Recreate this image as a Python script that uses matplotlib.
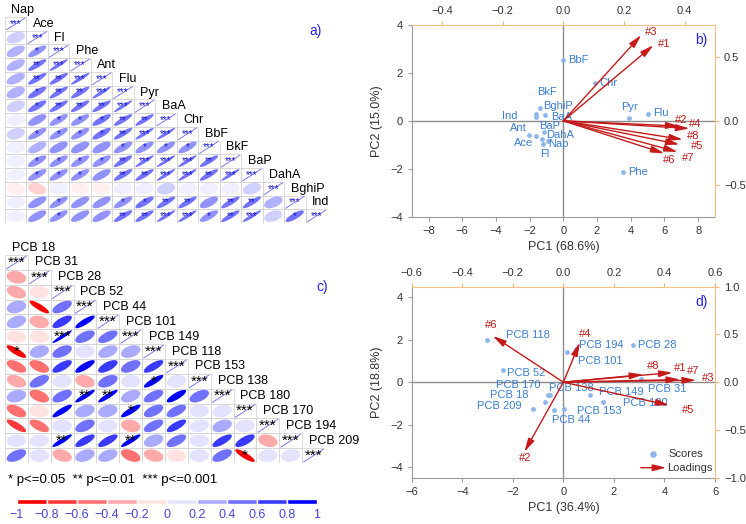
import matplotlib.pyplot as plt
import numpy as np
from matplotlib.colors import ListedColormap, BoundaryNorm
from matplotlib.patches import Polygon, Rectangle

plt.rcParams['font.family'] = ['Liberation Sans', 'DejaVu Sans']

# ---------------- correlation data (lower triangles, row k holds r with vars 0..k-1)
PAH_NAMES = ["Nap", "Ace", "Fl", "Phe", "Ant", "Flu", "Pyr", "BaA", "Chr", "BbF",
             "BkF", "BaP", "DahA", "BghiP", "Ind"]
PAH_R = [
    [0.35],
    [0.55, 0.78],
    [0.55, 0.86, 0.94],
    [0.55, 0.86, 0.88, 0.94],
    [0.45, 0.80, 0.88, 0.87, 0.94],
    [0.35, 0.80, 0.87, 0.87, 0.88, 0.95],
    [0.12, 0.65, 0.78, 0.78, 0.80, 0.88, 0.90],
    [0.25, 0.78, 0.78, 0.77, 0.80, 0.88, 0.94, 0.95],
    [0.05, 0.60, 0.62, 0.62, 0.62, 0.74, 0.77, 0.77, 0.76],
    [0.03, 0.74, 0.78, 0.78, 0.75, 0.86, 0.94, 0.95, 0.94, 0.88],
    [0.20, 0.76, 0.78, 0.78, 0.70, 0.86, 0.88, 0.94, 0.94, 0.87, 0.95],
    [-0.15, -0.30, 0.00, -0.12, -0.10, 0.15, 0.15, 0.22, 0.20, 0.05, 0.20, 0.30],
    [0.10, 0.66, 0.78, 0.68, 0.68, 0.78, 0.80, 0.86, 0.86, 0.62, 0.86, 0.87, 0.45],
    [0.15, 0.68, 0.78, 0.70, 0.70, 0.86, 0.87, 0.94, 0.94, 0.76, 0.88, 0.94, 0.35, 0.80],
]
PAH_SIG = [
    [0],
    [0, 1],
    [0, 2, 3],
    [0, 2, 2, 3],
    [0, 1, 2, 2, 3],
    [0, 1, 2, 2, 2, 3],
    [0, 0, 1, 1, 1, 2, 2],
    [0, 1, 1, 1, 1, 2, 3, 3],
    [0, 0, 0, 0, 0, 1, 1, 1, 1],
    [0, 1, 1, 1, 1, 2, 3, 3, 3, 2],
    [0, 1, 1, 1, 0, 2, 2, 3, 3, 2, 3],
    [0, 0, 0, 0, 0, 0, 0, 0, 0, 0, 0, 0],
    [0, 0, 1, 0, 0, 1, 1, 2, 2, 0, 2, 2, 0],
    [0, 0, 1, 0, 0, 2, 2, 3, 3, 1, 2, 3, 0, 1],
]

PCB_NAMES = ["PCB 18", "PCB 31", "PCB 28", "PCB 52", "PCB 44", "PCB 101", "PCB 149",
             "PCB 118", "PCB 153", "PCB 138", "PCB 180", "PCB 170", "PCB 194", "PCB 209"]
PCB_R = [
    [-0.20],
    [-0.35, -0.05],
    [0.25, -0.85, 0.60],
    [0.35, -0.20, 0.70, 0.85],
    [-0.12, -0.12, 0.95, 0.55, 0.60],
    [-0.82, 0.25, 0.50, 0.05, 0.40, 0.35],
    [-0.55, -0.50, 0.70, 0.80, 0.65, 0.50, 0.75],
    [-0.35, 0.55, 0.10, -0.25, 0.45, 0.05, 0.85, 0.15],
    [0.25, -0.45, 0.55, 0.90, 0.90, 0.40, 0.60, 0.80, 0.50],
    [-0.50, -0.10, 0.85, 0.30, 0.25, 0.85, 0.55, 0.60, 0.05, 0.20],
    [-0.80, -0.60, 0.00, 0.50, 0.05, -0.20, 0.60, 0.75, 0.20, 0.35, 0.15],
    [0.05, 0.10, 0.90, 0.75, 0.75, 0.90, 0.35, 0.60, 0.00, 0.75, 0.70, -0.25],
    [0.50, 0.00, -0.30, 0.35, 0.40, -0.45, -0.30, -0.12, 0.00, 0.55, -0.85, 0.10, 0.15],
]
PCB_SIG = [
    [0],
    [0, 0],
    [0, 0, 0],
    [0, 0, 0, 0],
    [0, 0, 3, 0, 0],
    [1, 0, 0, 0, 0, 0],
    [0, 0, 0, 0, 0, 0, 0],
    [0, 0, 0, 0, 0, 0, 1, 0],
    [0, 0, 0, 2, 2, 0, 0, 0, 0],
    [0, 0, 0, 0, 0, 1, 0, 0, 0, 0],
    [0, 0, 0, 0, 0, 0, 0, 0, 0, 0, 0],
    [0, 0, 2, 0, 0, 2, 0, 0, 0, 0, 0, 0],
    [0, 0, 0, 0, 0, 0, 0, 0, 0, 0, 1, 0, 0],
]

# ---------------- PCA data
PAH_PC1 = [-0.91, -1.64, -1.21, 3.53, -2.06, 5.04, 3.89, -1.07, 1.85, 0.0,
           -1.60, -1.15, -1.25, -1.40, -1.60]
PAH_PC2 = [-0.83, -0.63, -0.97, -2.13, -0.57, 0.27, 0.10, 0.24, 1.56, 2.56,
           0.27, -0.45, -0.74, 0.52, 0.14]
PAH_SITES = ["#1", "#2", "#3", "#4", "#5", "#6", "#7", "#8"]
PAH_LOAD1 = [0.297, 0.383, 0.257, 0.416, 0.383, 0.333, 0.377, 0.394]
PAH_LOAD2 = [0.592, -0.041, 0.671, -0.060, -0.185, -0.255, -0.243, -0.146]

PCB_PC1 = [-0.71, 3.09, 2.76, -2.40, -0.37, 0.14, 1.07, -3.03, 0.02, -0.52,
           1.57, -0.61, 0.52, -1.21]
PCB_PC2 = [-0.93, 0.13, 1.74, 0.56, -1.32, 1.43, -0.58, 1.98, -1.24, -0.58,
           -0.93, -0.61, 1.55, -1.24]
PCB_SITES = ["#1", "#2", "#3", "#4", "#5", "#6", "#7", "#8"]
PCB_LOAD1 = [0.432, -0.154, 0.525, 0.065, 0.419, -0.279, 0.462, 0.316]
PCB_LOAD2 = [0.101, -0.729, 0.021, 0.415, -0.241, 0.484, 0.028, 0.080]

# label placement (data coords of the primary axes)
PAH_LABEL_POS = {
    "Nap": (-0.91, -0.97, "left"), "Ace": (-1.8, -0.92, "right"), "Fl": (-1.4, -1.38, "left"),
    "Phe": (3.83, -2.13, "left"), "Ant": (-2.19, -0.29, "right"), "Flu": (5.35, 0.31, "left"),
    "Pyr": (3.44, 0.58, "left"), "BaA": (-0.75, 0.15, "left"), "Chr": (2.15, 1.56, "left"),
    "BbF": (0.31, 2.56, "left"), "BkF": (-1.54, 1.2, "left"), "BaP": (-1.45, -0.2, "left"),
    "DahA": (-1.01, -0.58, "left"), "BghiP": (-1.21, 0.62, "left"), "Ind": (-2.73, 0.19, "right"),
}
PAH_LOAD_LABEL_POS = [(6.0, 3.19), (6.99, 0.05), (5.21, 3.69), (7.85, -0.14),
                      (7.94, -1.04), (6.3, -1.64), (7.39, -1.57), (7.68, -0.63)]
PCB_LABEL_POS = {
    "PCB 18": (-2.92, -0.62), "PCB 31": (3.36, -0.3), "PCB 28": (2.96, 1.74),
    "PCB 52": (-2.22, 0.44), "PCB 44": (-0.44, -1.8), "PCB 101": (0.58, 1.02),
    "PCB 149": (1.42, -0.47), "PCB 118": (-2.26, 2.21), "PCB 153": (0.55, -1.38),
    "PCB 138": (-0.55, -0.27), "PCB 180": (2.35, -0.98), "PCB 170": (-2.66, -0.15),
    "PCB 194": (0.62, 1.77), "PCB 209": (-3.41, -1.11),
}
PCB_LOAD_LABEL_POS = [(4.64, 0.67), (-1.5, -3.59), (5.74, 0.22), (0.87, 2.26),
                      (4.94, -1.29), (-2.86, 2.68), (5.14, 0.52), (3.56, 0.75)]

W, H = 746, 524
fig = plt.figure(figsize=(W / 100, H / 100), dpi=100)


def rect(x0, y0, x1, y1):
    return [x0 / W, 1 - y1 / H, (x1 - x0) / W, (y1 - y0) / H]


# corrplot-like palette: red -> white -> blue, 10 steps
def ramp(n=10):
    out = []
    for t in np.linspace(0, 1, n):
        if t < 0.5:
            f = t / 0.5
            out.append((1.0, f, f))
        else:
            f = (t - 0.5) / 0.5
            out.append((1 - f, 1 - f, 1.0))
    return out


COLS = ramp(10)
cmap = ListedColormap(COLS)
norm = BoundaryNorm(np.linspace(-1, 1, 11), cmap.N)


def ellipse_xy(r, scale=0.85, n=90):
    t = np.linspace(0, 2 * np.pi, n)
    d = np.arccos(np.clip(r, -1, 1))
    return scale * np.cos(t + d / 2) / 2, scale * np.cos(t - d / 2) / 2


def draw_corr(ax, names, rlow, slow, star_color, star_size, alpha):
    n = len(names)
    for i in range(n):
        for j in range(i + 1):
            cx, cy = j + 0.5, -i - 0.5
            ax.add_patch(Rectangle((j, -i - 1), 1, 1, fill=False, ec="#d6d6d6", lw=0.6))
            if i == j:
                ax.plot([cx - 0.425, cx + 0.425], [cy - 0.425, cy + 0.425],
                        color="#7a7af0", lw=0.7)
                stars = 3
            else:
                r = rlow[i - 1][j]
                ex, ey = ellipse_xy(r)
                ax.add_patch(Polygon(np.column_stack([cx + ex, cy + ey]),
                                     fc=cmap(norm(r)), ec="none", alpha=alpha))
                stars = slow[i - 1][j]
            if stars:
                ax.text(cx, cy, "*" * stars, ha="center", va="center",
                        color=star_color, fontsize=star_size)
        ax.text(i + 0.3, -i + 0.5, names[i], ha="left", va="center",
                fontsize=9, clip_on=False)
    ax.set_xlim(0, n)
    ax.set_ylim(-n, 0)
    ax.axis("off")


ax_a = fig.add_axes(rect(5, 17, 327, 223))
draw_corr(ax_a, PAH_NAMES, PAH_R, PAH_SIG, "#1a1ad0", 7, 0.55)
fig.text(316 / W, 1 - 31 / H, "a)", color="#2626e0", fontsize=10, ha="center", va="center")

ax_c = fig.add_axes(rect(5, 255, 325, 463))
draw_corr(ax_c, PCB_NAMES, PCB_R, PCB_SIG, "black", 11, 1.0)
fig.text(322 / W, 1 - 287 / H, "c)", color="#2626e0", fontsize=10, ha="center", va="center")

fig.text(8 / W, 1 - 480 / H, "* p<=0.05  ** p<=0.01  *** p<=0.001", fontsize=9.5,
         ha="left", va="center")

# colour legend
cax = fig.add_axes(rect(17, 499, 317, 504))
for k in range(10):
    cax.add_patch(Rectangle((-1 + 0.2 * k, 0), 0.2, 1, fc=COLS[k], ec="white", lw=1.0))
cax.set_xlim(-1, 1)
cax.set_ylim(0, 1)
cax.axis("off")
for v in np.linspace(-1, 1, 11):
    lab = "0" if abs(v) < 1e-9 else ("%g" % round(v, 1)).replace("-", "\u2212")
    cax.text(v, -2.3, lab, ha="center", va="center", fontsize=9, color="#4646d6")


def biplot(rect_px, pc1, pc2, names, label_pos, l1, l2, sites, load_pos,
           xlim, ylim, lxlim, lylim, xt, yt, lxt, lyt, xlabel, ylabel, letter):
    ax = fig.add_axes(rect(*rect_px))
    ax.set_xlim(*xlim)
    ax.set_ylim(*ylim)
    ax.axhline(0, color="#8c8c8c", lw=1.0, zorder=1)
    ax.axvline(0, color="#8c8c8c", lw=1.0, zorder=1)
    ax.scatter(pc1, pc2, s=12, color="#8db6ea", zorder=3, linewidths=0)
    for nm in names:
        p = label_pos[nm]
        ha = p[2] if len(p) > 2 else "left"
        ax.text(p[0], p[1], nm, ha=ha, va="center", fontsize=8, color="#3a7dd2", zorder=4)
    for s, p in zip(sites, load_pos):
        ax.text(p[0], p[1], s, ha="center", va="center", fontsize=8, color="#c41a1a", zorder=4)
    ax.set_xticks(xt)
    ax.set_yticks(yt)
    ax.tick_params(colors="#999999", labelcolor="#333333", labelsize=8, length=3)
    for side in ("top", "right"):
        ax.spines[side].set_visible(False)
    for side in ("left", "bottom"):
        ax.spines[side].set_color("#9a9a9a")
    ax.set_xlabel(xlabel, fontsize=9, color="#333333", labelpad=4)
    ax.set_ylabel(ylabel, fontsize=9, color="#333333", labelpad=5)
    ax.text(0.955, 0.92, letter, transform=ax.transAxes, color="#2626e0", fontsize=10,
            ha="center", va="center")

    axl = fig.add_axes(rect(*rect_px), facecolor="none")
    axl.set_xlim(*lxlim)
    axl.set_ylim(*lylim)
    axl.xaxis.tick_top()
    axl.yaxis.tick_right()
    axl.set_xticks(lxt)
    axl.set_yticks(lyt)
    axl.tick_params(colors="#f2b56b", labelcolor="#333333", labelsize=8, length=3)
    for side in ("left", "bottom"):
        axl.spines[side].set_visible(False)
    for side in ("top", "right"):
        axl.spines[side].set_color("#f2c080")
    for x, y in zip(l1, l2):
        axl.annotate("", xy=(x, y), xytext=(0, 0),
                     arrowprops=dict(arrowstyle="-|>,head_length=0.8,head_width=0.2",
                                     color="#c41a1a", lw=1.0, shrinkA=0, shrinkB=0))
    return ax, axl


biplot((411.7, 25, 715, 216.7), PAH_PC1, PAH_PC2, PAH_NAMES, PAH_LABEL_POS,
       PAH_LOAD1, PAH_LOAD2, PAH_SITES, PAH_LOAD_LABEL_POS,
       (-9, 9), (-4, 4), (-0.5, 0.5), (-0.75, 0.75),
       np.arange(-8, 9, 2), np.arange(-4, 5, 2), np.arange(-0.4, 0.41, 0.2), [-0.5, 0.0, 0.5],
       "PC1 (68.6%)", "PC2 (15.0%)", "b)")

ax_d, axl_d = biplot((411.7, 286.7, 715, 477.7), PCB_PC1, PCB_PC2, PCB_NAMES, PCB_LABEL_POS,
                     PCB_LOAD1, PCB_LOAD2, PCB_SITES, PCB_LOAD_LABEL_POS,
                     (-6, 6), (-4.5, 4.5), (-0.6, 0.6), (-1.0, 1.0),
                     np.arange(-6, 7, 2), np.arange(-4, 5, 2), np.arange(-0.6, 0.61, 0.2),
                     [-1.0, -0.5, 0.0, 0.5, 1.0],
                     "PC1 (36.4%)", "PC2 (18.8%)", "d)")

# legend of panel d
ax_d.scatter([3.53], [-3.4], s=22, color="#8db6ea", linewidths=0, zorder=5)
ax_d.text(4.15, -3.4, "Scores", fontsize=8, color="#333333", va="center")
ax_d.annotate("", xy=(4.07, -4.03), xytext=(3.06, -4.03),
              arrowprops=dict(arrowstyle="-|>,head_length=0.8,head_width=0.2",
                              color="#c41a1a", lw=1.0, shrinkA=0, shrinkB=0))
ax_d.text(4.11, -4.03, "Loadings", fontsize=8, color="#333333", va="center")

fig.savefig("out.png", dpi=100)
